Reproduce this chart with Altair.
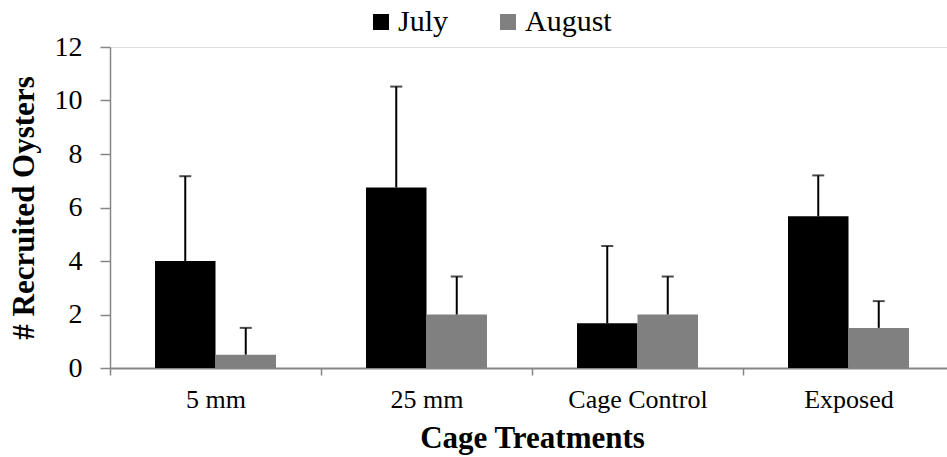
import altair as alt
import pandas as pd

# Mean recruited oysters per cage treatment, with upward standard-error whiskers
categories = ["5 mm", "25 mm", "Cage Control", "Exposed"]
months = ["July", "August"]
july_mean = [4.0, 6.75, 1.67, 5.67]
july_err = [3.17, 3.77, 2.89, 1.53]
august_mean = [0.5, 2.0, 2.0, 1.5]
august_err = [1.0, 1.42, 1.42, 1.0]

rows = []
for i, cat in enumerate(categories):
    rows.append({"treatment": cat, "month": "July", "mean": july_mean[i], "err": july_err[i]})
    rows.append({"treatment": cat, "month": "August", "mean": august_mean[i], "err": august_err[i]})
df = pd.DataFrame(rows)

FONT = "'Liberation Serif', 'Times New Roman', Times, 'DejaVu Serif', serif"
AXIS_GREY = "#868686"

x_enc = alt.X(
    "treatment:N",
    sort=categories,
    scale=alt.Scale(range=[0, 844], paddingInner=0, paddingOuter=0),
    axis=alt.Axis(
        title="Cage Treatments",
        titleFont=FONT,
        titleFontSize=31,
        titleFontWeight="bold",
        titleColor="black",
        titlePadding=11,
        labelFont=FONT,
        labelFontSize=26,
        labelColor="black",
        labelAngle=0,
        labelPadding=11,
        tickBand="extent",
        tickSize=7,
        tickColor=AXIS_GREY,
        domainColor=AXIS_GREY,
        domainWidth=2,
        tickWidth=1.5,
    ),
)
x_off = alt.XOffset("month:N", sort=months, scale=alt.Scale(paddingInner=0, paddingOuter=0.744))

y_scale = alt.Scale(domain=[0, 12], nice=False)

bars = alt.Chart(df).mark_bar().encode(
    x=x_enc,
    xOffset=x_off,
    y=alt.Y(
        "mean:Q",
        scale=y_scale,
        axis=alt.Axis(
            title="# Recruited Oysters",
            titleFont=FONT,
            titleFontSize=31,
            titleFontWeight="bold",
            titleColor="black",
            titlePadding=14,
            values=[0, 2, 4, 6, 8, 10, 12],
            labelFont=FONT,
            labelFontSize=28,
            labelColor="black",
            labelPadding=18,
            tickSize=10,
            tickColor=AXIS_GREY,
            domainColor=AXIS_GREY,
            domainWidth=1.5,
            tickWidth=1.5,
            grid=False,
        ),
    ),
    color=alt.Color(
        "month:N",
        sort=months,
        scale=alt.Scale(domain=months, range=["#000000", "#808080"]),
        legend=alt.Legend(
            title=None,
            orient="none",
            direction="horizontal",
            legendX=256,
            legendY=-40,
            symbolType="square",
            symbolSize=256,
            symbolStrokeWidth=0,
            labelFont=FONT,
            labelFontSize=30,
            labelColor="black",
            labelOffset=2,
            columnPadding=44,
            padding=0,
        ),
    ),
)

whisker = alt.Chart(df).transform_calculate(top="datum.mean + datum.err").mark_rule(
    color="black", strokeWidth=2
).encode(
    x=alt.X("treatment:N", sort=categories),
    xOffset=x_off,
    y=alt.Y("mean:Q", scale=y_scale),
    y2="top:Q",
)

caps = alt.Chart(df).transform_calculate(top="datum.mean + datum.err").mark_tick(
    color="black", thickness=2, size=12
).encode(
    x=alt.X("treatment:N", sort=categories),
    xOffset=x_off,
    y=alt.Y("top:Q", scale=y_scale),
)

chart = (
    alt.layer(bars, whisker, caps)
    .properties(
        width=837,
        height=321,
        autosize=alt.AutoSizeParams(type="none"),
        padding={"left": 110, "top": 47, "right": 0, "bottom": 89},
    )
    .configure_view(stroke=None)
    .configure(background="white")
)

chart.save("out.html", embed_options={"renderer": "svg", "actions": False})
